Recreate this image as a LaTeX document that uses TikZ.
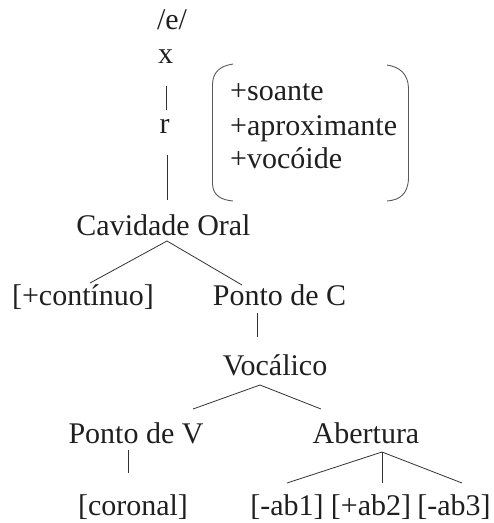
\documentclass[tikz,border=0pt]{standalone}
\usepackage{fontspec}
\setmainfont{Liberation Serif}
\begin{document}
\begin{tikzpicture}[x=1pt,y=-1pt,
  lbl/.style={inner sep=0pt,anchor=base,font=\fontsize{30}{34}\selectfont,text=black!88},
  feat/.style={lbl,anchor=base west},
  edge/.style={draw=black!80,line width=0.8pt},
  brk/.style={draw=black!65,line width=0.9pt}]
\useasboundingbox (0,0) rectangle (494,523);
% nodes
\node[lbl] (e) at (172,29) {/e/};
\node[lbl] (x) at (165.5,63) {x};
\node[lbl] (r) at (164.5,133) {r};
\node[feat] (f1) at (230,100) {+soante};
\node[feat] (f2) at (230,135) {+aproximante};
\node[feat] (f3) at (230,168) {+vocóide};
\node[lbl] (co) at (163.5,235) {Cavidade Oral};
\node[lbl] (cont) at (83,305) {[+contínuo]};
\node[lbl] (pc) at (279.5,305) {Ponto de C};
\node[lbl] (voc) at (275,375) {Vocálico};
\node[lbl] (pv) at (136,443) {Ponto de V};
\node[lbl] (ab) at (366,443) {Abertura};
\node[lbl] (cor) at (133,515) {[coronal]};
\node[lbl] (ab1) at (287,515) {[-ab1]};
\node[lbl] (ab2) at (371,515) {[+ab2]};
\node[lbl] (ab3) at (454,515) {[-ab3]};
% connector end points
\coordinate (x-b) at (166,86);
\coordinate (r-t) at (166,110);
\coordinate (r-b) at (167,155);
\coordinate (co-t) at (167,200);
\coordinate (co-b) at (167,241);
\coordinate (cont-t) at (90,283);
\coordinate (pc-t) at (242,285);
\coordinate (pc-b) at (257,313);
\coordinate (voc-t) at (257,337);
\coordinate (voc-b) at (260,385);
\coordinate (pv-t) at (193,409);
\coordinate (ab-t) at (321,409);
\coordinate (pv-b) at (128,450);
\coordinate (cor-t) at (128,473);
\coordinate (ab-b) at (382,452);
\coordinate (ab1-t) at (287,483);
\coordinate (ab2-t) at (382,483);
\coordinate (ab3-t) at (462,483);
% connectors
\draw[edge] (x-b) -- (r-t);
\draw[edge] (r-b) -- (co-t);
\draw[edge] (cont-t) -- (co-b) -- (pc-t);
\draw[edge] (pc-b) -- (voc-t);
\draw[edge] (pv-t) -- (voc-b) -- (ab-t);
\draw[edge] (pv-b) -- (cor-t);
\draw[edge] (ab1-t) -- (ab-b) -- (ab3-t);
\draw[edge] (ab-b) -- (ab2-t);
% brackets
\draw[brk] (233,64) .. controls (220,66) and (213,72) .. (212.5,84) -- (212.5,184) .. controls (213,196) and (222,200) .. (233,201);
\draw[brk] (387,65) .. controls (400,67) and (408,74) .. (408.5,88) -- (408.5,178) .. controls (408,194) and (400,200) .. (387,201);
\end{tikzpicture}
\end{document}
